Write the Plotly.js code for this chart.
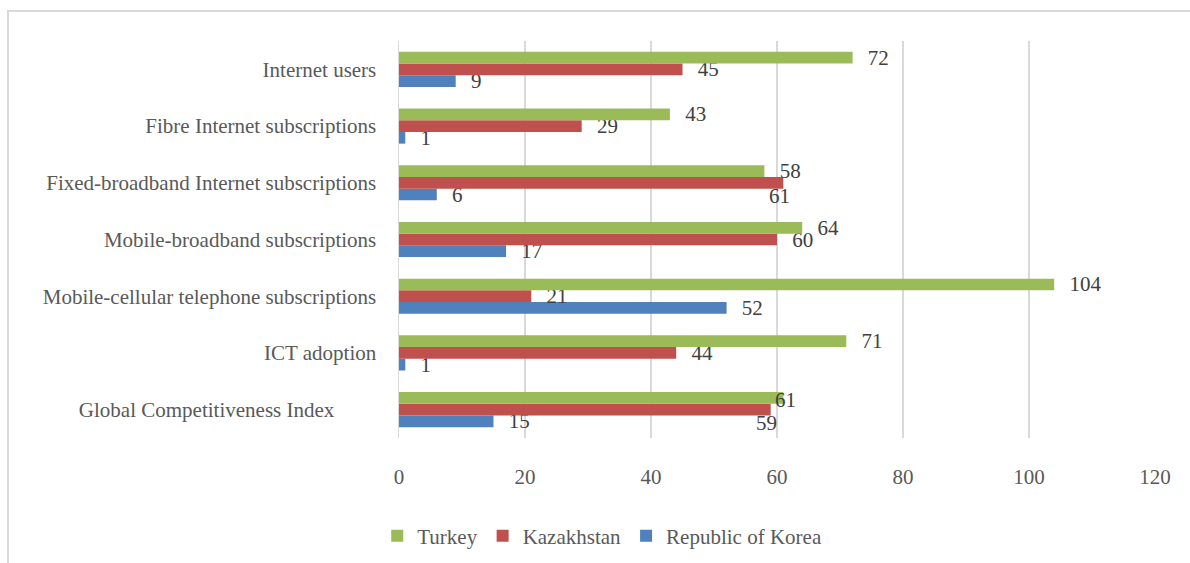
<!DOCTYPE html>
<html>
<head>
<meta charset="utf-8">
<script src="https://cdn.plot.ly/plotly-3.0.1.min.js"></script>
<style>
  html, body { margin: 0; padding: 0; background: #fff; }
  #wrap { position: relative; width: 1190px; height: 563px; overflow: hidden; }
  #chart { position: absolute; left: 0; top: 0; width: 1190px; height: 563px; }
  #frame { position: absolute; left: 7px; top: 10px; width: 1200px; height: 600px;
           border-top: 2px solid #d9d9d9; border-left: 2px solid #d9d9d9; pointer-events: none; }
</style>
</head>
<body>
<div id="wrap">
  <div id="chart"></div>
  <div id="frame"></div>
</div>
<script>
// Categories from bottom to top (as drawn on the y axis)
const categories = [
  "Global Competitiveness Index",
  "ICT adoption",
  "Mobile-cellular telephone subscriptions",
  "Mobile-broadband subscriptions",
  "Fixed-broadband Internet subscriptions",
  "Fibre Internet subscriptions",
  "Internet users"
];
const tickLabels = [
  "Global Competitiveness Index\u00a0\u00a0\u00a0\u00a0\u00a0\u00a0\u00a0\u00a0",
  "ICT adoption",
  "Mobile-cellular telephone subscriptions",
  "Mobile-broadband subscriptions",
  "Fixed-broadband Internet subscriptions",
  "Fibre Internet subscriptions",
  "Internet users"
];
const turkey     = [61, 71, 104, 64, 58, 43, 72];
const kazakhstan = [59, 44, 21, 60, 61, 29, 45];
const korea      = [15, 1, 52, 17, 6, 1, 9];
const xTicks = [0, 20, 40, 60, 80, 100, 120];

// indices of labels that the original chart moved to avoid collisions
const movedTurkey = [0];
const movedKazakhstan = [0, 4];

const serif = "Liberation Serif";
const labelFont = {family: serif, size: 21, color: "#404040"};
const pad = "\u00a0\u00a0\u200a";

function series(name, vals, color, moved) {
  return {
    type: "bar", orientation: "h", name: name,
    y: categories, x: vals,
    marker: {color: color},
    texttemplate: vals.map((v, i) => moved.includes(i) ? "" : pad + "%{x}"),
    textposition: "outside",
    constraintext: "none",
    cliponaxis: false,
    textfont: labelFont,
    hoverinfo: "skip"
  };
}

const data = [
  series("Republic of Korea", korea, "#4F81BD", []),
  series("Kazakhstan", kazakhstan, "#C0504D", movedKazakhstan),
  series("Turkey", turkey, "#9BBB59", movedTurkey)
];

const annotations = [];
movedTurkey.forEach(i => annotations.push({
  x: turkey[i], y: categories[i], xref: "x", yref: "y",
  text: String(turkey[i]), showarrow: false, xanchor: "center", yanchor: "middle",
  xshift: 2, yshift: 10, font: labelFont
}));
movedKazakhstan.forEach(i => annotations.push({
  x: kazakhstan[i], y: categories[i], xref: "x", yref: "y",
  text: String(kazakhstan[i]), showarrow: false, xanchor: "center", yanchor: "middle",
  xshift: -4, yshift: -13, font: labelFont
}));

const layout = {
  width: 1190, height: 563,
  margin: {l: 399, r: 35, t: 41, b: 125},
  paper_bgcolor: "#ffffff", plot_bgcolor: "#ffffff",
  barmode: "group", bargap: 0.38, bargroupgap: 0,
  font: {family: serif, size: 21, color: "#595959"},
  showlegend: true,
  legend: {
    orientation: "h", traceorder: "reversed",
    xref: "container", yref: "container",
    x: 0.317, xanchor: "left", y: 0.048, yanchor: "middle",
    font: {family: serif, size: 21, color: "#595959"},
    bgcolor: "rgba(0,0,0,0)"
  },
  annotations: annotations,
  xaxis: {
    range: [0, 120], tickvals: xTicks, ticktext: xTicks.map(String),
    showgrid: true, gridcolor: "#d9d9d9", gridwidth: 1.5,
    zeroline: false, showline: false, ticks: "",
    ticklabelstandoff: 24, automargin: false,
    tickfont: {family: serif, size: 21, color: "#595959"},
    fixedrange: true
  },
  yaxis: {
    type: "category", categoryorder: "array", categoryarray: categories,
    tickvals: categories, ticktext: tickLabels,
    showgrid: false, zeroline: false, showline: true, linecolor: "#d9d9d9", linewidth: 1.5,
    ticks: "", ticklabelstandoff: 17, automargin: false,
    tickfont: {family: serif, size: 21, color: "#595959"},
    fixedrange: true
  }
};

Plotly.newPlot("chart", data, layout, {staticPlot: true, displayModeBar: false});
</script>
</body>
</html>
